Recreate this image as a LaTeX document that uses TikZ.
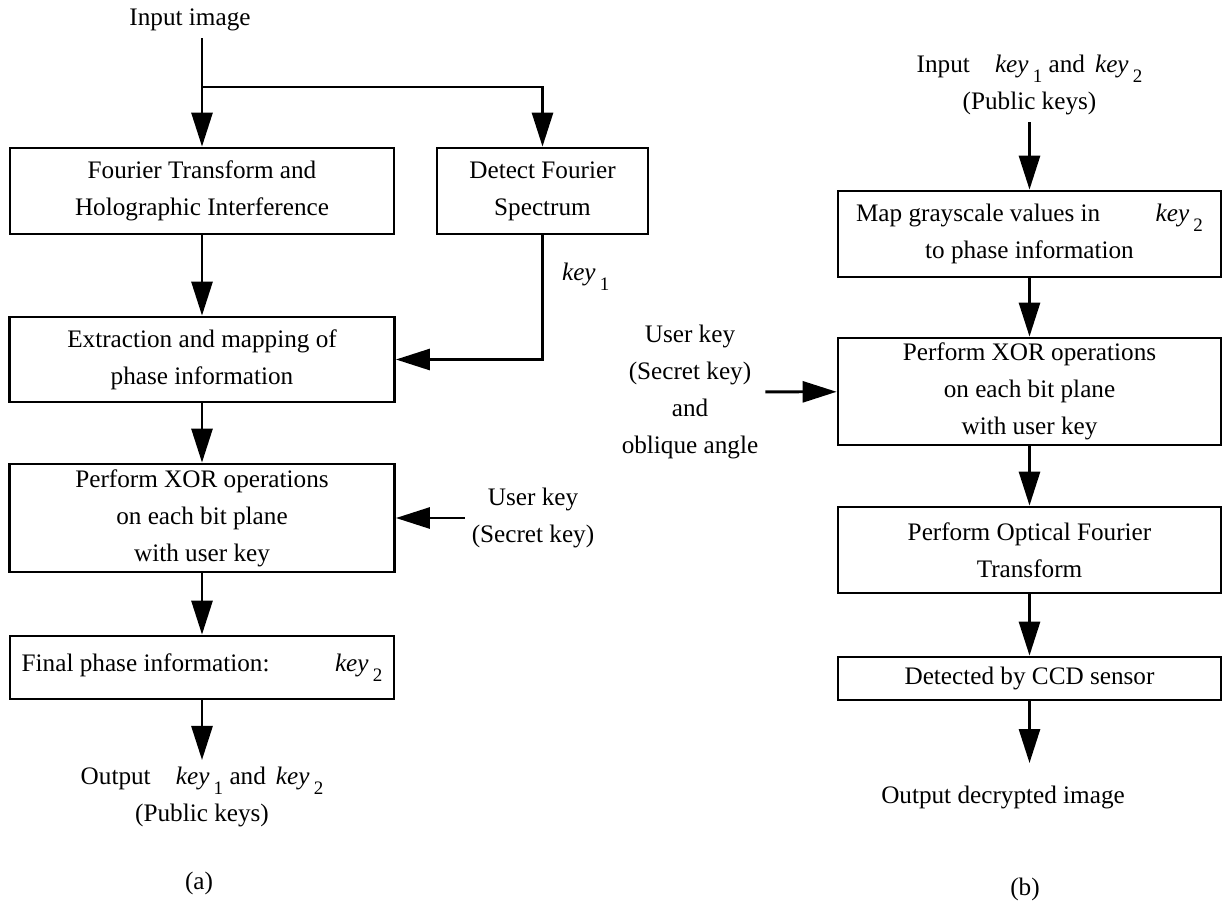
\documentclass[tikz,border=0pt]{standalone}
\usepackage{fontspec}
\setmainfont{Liberation Serif}
\usetikzlibrary{arrows.meta}
\newcommand{\keyof}[1]{\textit{key}\,\raisebox{-5pt}{\fontsize{9.5}{10}\selectfont #1}}

\begin{document}
\begin{tikzpicture}[x=0.5pt, y=-0.5pt,
    font=\fontsize{12.6}{18.5}\selectfont,
    box/.style={draw, line width=1.4pt, align=center, inner sep=0pt},
    flow/.style={line width=1.4pt, -{Triangle[length=17pt,width=10.5pt]}},
    txt/.style={align=center}]
    \useasboundingbox (0,0) rectangle (1226,901);

    % (a) 加密流程
    \node[txt] (in_a) at (190,20) {Input image};
    \coordinate (split) at (202,87);
    \node[box, minimum width=192pt, minimum height=43pt] (fa) at (202,191) {Fourier Transform and\\Holographic Interference};
    \node[box, minimum width=105.5pt, minimum height=43pt] (dfs) at (542.5,191) {Detect Fourier\\Spectrum};
    \node[anchor=west] (k1) at (555,277) {\keyof{1}};
    \node[box, minimum width=192.5pt, minimum height=42.5pt] (ext) at (202,359.5) {Extraction and mapping of\\phase information};
    \node[box, minimum width=192.5pt, minimum height=54pt] (xor_a) at (202,518) {Perform XOR operations\\on each bit plane\\with user key};
    \node[txt] (ukey_a) at (533,518) {User key\\(Secret key)};
    \node[box, minimum width=192pt, minimum height=31.5pt] (fin) at (202,667.5) {Final phase information:\hspace{2.6em}\keyof{2}};
    \node[txt] (out_a) at (202,797) {Output\hspace{1em}\keyof{1} and\hspace{0.4em}\keyof{2}\\(Public keys)};
    \node (lbl_a) at (199,883) {(a)};

    % (a) 的箭頭
    \draw[flow] (in_a.south -| fa.north) -- (fa.north);
    \draw[flow] (split) -| (dfs.north);
    \draw[flow] (fa) -- (ext);
    \draw[flow] (dfs.south) |- (ext.east);
    \draw[flow] (ext) -- (xor_a);
    \draw[flow] (ukey_a) -- (xor_a);
    \draw[flow] (xor_a) -- (fin);
    \draw[flow] (fin) -- (out_a);

    % (b) 解密流程
    \node[txt] (in_b) at (1029.5,85) {Input\hspace{1em}\keyof{1} and\hspace{0.4em}\keyof{2}\\(Public keys)};
    \node[box, minimum width=191.5pt, minimum height=43pt] (map) at (1029.5,234) {Map grayscale values in\hspace{2.2em}\keyof{2}\\to phase information};
    \node[box, minimum width=191.5pt, minimum height=53.5pt] (xor_b) at (1029.5,391.5) {Perform XOR operations\\on each bit plane\\with user key};
    \node[txt] (ukey_b) at (690,392) {User key\\(Secret key)\\and\\oblique angle};
    \node[box, minimum width=191.5pt, minimum height=43pt] (oft) at (1029.5,550) {Perform Optical Fourier\\Transform};
    \node[box, minimum width=191.5pt, minimum height=21.5pt] (ccd) at (1029.5,678.5) {Detected by CCD sensor};
    \coordinate (ob) at (1029.5,763);
    \node[txt] (out_b) at (1003,797) {Output decrypted image};
    \node (lbl_b) at (1025,889) {(b)};

    % (b) 的箭頭
    \draw[flow] (in_b) -- (map);
    \draw[flow] (map) -- (xor_b);
    \draw[flow] (ukey_b) -- (xor_b);
    \draw[flow] (xor_b) -- (oft);
    \draw[flow] (oft) -- (ccd);
    \draw[flow] (ccd) -- (ob);
\end{tikzpicture}
\end{document}
